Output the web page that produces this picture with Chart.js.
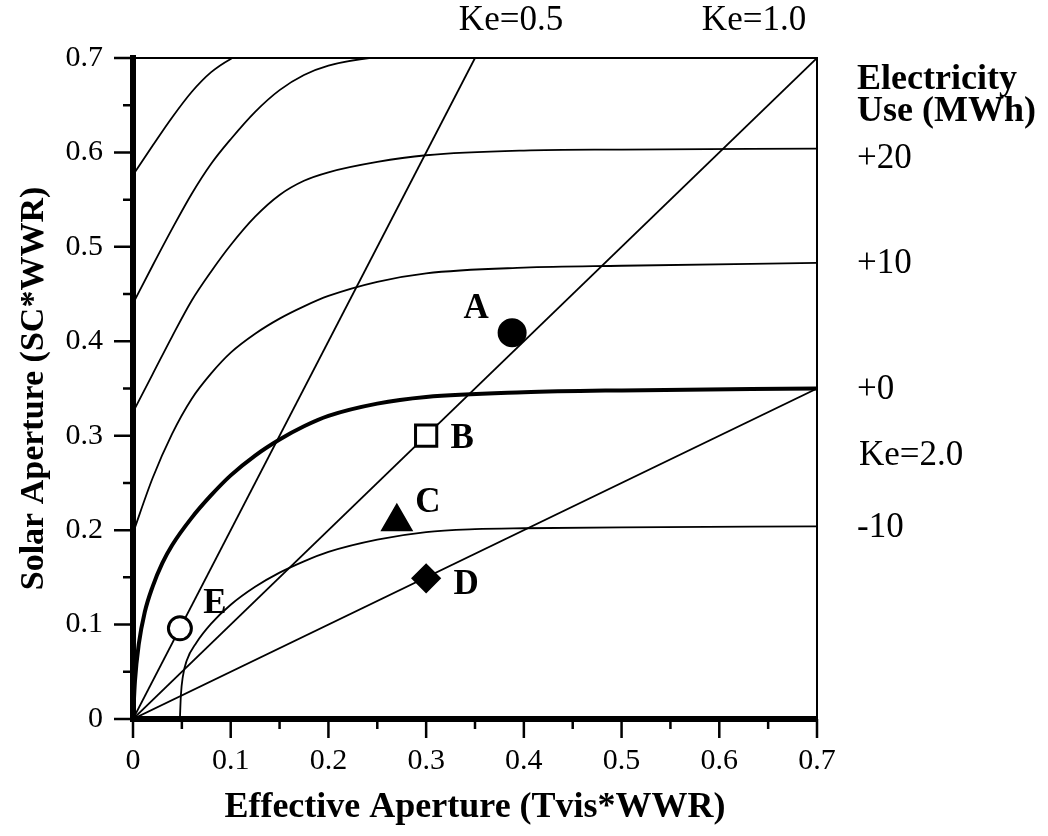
<!DOCTYPE html>
<html>
<head>
<meta charset="utf-8">
<script src="https://cdn.jsdelivr.net/npm/chart.js@4.4.0/dist/chart.umd.min.js"></script>
<style>
  html, body { margin: 0; padding: 0; background: #fff; }
  canvas { display: block; }
</style>
</head>
<body>
<canvas id="apertureChart" width="1048" height="836"></canvas>
<script>
// axis ticks
const tickValues = [0, 0.1, 0.2, 0.3, 0.4, 0.5, 0.6, 0.7];
const tickLabels = ['0', '0.1', '0.2', '0.3', '0.4', '0.5', '0.6', '0.7'];
const minorTicks = [0.05, 0.15, 0.25, 0.35, 0.45, 0.55, 0.65];

// electricity use contours [x, y]
const curvePlus40 = [[0, 0.576], [0.02, 0.607], [0.04, 0.637], [0.06, 0.664], [0.08, 0.685], [0.10, 0.699], [0.125, 0.711], [0.15, 0.719], [0.2, 0.726]];
const curvePlus30 = [[0, 0.440], [0.02, 0.480], [0.04, 0.519], [0.06, 0.556], [0.08, 0.588], [0.10, 0.614], [0.125, 0.643], [0.15, 0.666], [0.175, 0.682], [0.2, 0.692], [0.25, 0.701], [0.3, 0.705], [0.7, 0.707]];
const curvePlus20 = [[0, 0.325], [0.02, 0.365], [0.04, 0.405], [0.06, 0.443], [0.08, 0.474], [0.10, 0.502], [0.125, 0.532], [0.15, 0.555], [0.175, 0.570], [0.2, 0.579], [0.25, 0.590], [0.3, 0.597], [0.4, 0.602], [0.5, 0.603], [0.7, 0.604]];
const curvePlus10 = [[0, 0.197], [0.02, 0.255], [0.04, 0.302], [0.06, 0.339], [0.08, 0.366], [0.10, 0.388], [0.125, 0.408], [0.15, 0.424], [0.175, 0.437], [0.2, 0.448], [0.25, 0.463], [0.3, 0.472], [0.4, 0.478], [0.5, 0.480], [0.7, 0.483]];
const curveZero = [[0, 0], [0.002, 0.04], [0.006, 0.08], [0.012, 0.113], [0.02, 0.14], [0.03, 0.165], [0.04, 0.184], [0.06, 0.213], [0.08, 0.237], [0.10, 0.258], [0.125, 0.279], [0.15, 0.296], [0.175, 0.310], [0.2, 0.321], [0.25, 0.334], [0.3, 0.341], [0.4, 0.346], [0.5, 0.348], [0.7, 0.350]];
const curveMinus10 = [[0.048, 0], [0.049, 0.025], [0.051, 0.045], [0.055, 0.062], [0.065, 0.081], [0.08, 0.101], [0.10, 0.121], [0.125, 0.140], [0.15, 0.155], [0.175, 0.167], [0.2, 0.177], [0.25, 0.190], [0.3, 0.198], [0.35, 0.201], [0.4, 0.202], [0.5, 0.203], [0.7, 0.204]];

const curveNames = ['+40', '+30', '+20', '+10', '+0', '-10'];
const curves = [curvePlus40, curvePlus30, curvePlus20, curvePlus10, curveZero, curveMinus10];

// Ke lines (SC = Tvis / Ke)
const keNames = ['Ke=0.5', 'Ke=1.0', 'Ke=2.0'];
const keLineX = [[0, 0.35], [0, 0.7], [0, 0.7]];
const keLineY = [[0, 0.7], [0, 0.7], [0, 0.35]];

// case points
const pointNames = ['A', 'B', 'C', 'D', 'E'];
const pointX = [0.388, 0.30, 0.27, 0.30, 0.048];
const pointY = [0.409, 0.30, 0.209, 0.149, 0.096];

const serif = '"Liberation Serif", "Times New Roman", serif';

const datasets = [];

// markers first so they sit on top
datasets.push({
    label: 'cases',
    data: pointX.map((x, i) => ({ x: x, y: pointY[i] })),
    pointStyle: ['circle', 'rect', 'triangle', 'rectRot', 'circle'],
    pointRadius: [13, 15, 16, 13, 11.5],
    pointBackgroundColor: ['#000', '#fff', '#000', '#000', '#fff'],
    pointBorderColor: '#000',
    pointBorderWidth: 3,
    showLine: false,
    clip: false
});

curves.forEach((c, i) => {
    datasets.push({
        label: curveNames[i],
        data: c.map(p => ({ x: p[0], y: p[1] })),
        showLine: true,
        borderColor: '#000',
        borderWidth: curveNames[i] === '+0' ? 4 : 1.8,
        pointRadius: 0,
        cubicInterpolationMode: 'monotone',
        clip: 0
    });
});

keNames.forEach((k, i) => {
    datasets.push({
        label: k,
        data: keLineX[i].map((x, j) => ({ x: x, y: keLineY[i][j] })),
        showLine: true,
        borderColor: '#000',
        borderWidth: 1.8,
        pointRadius: 0,
        clip: 0
    });
});

// label offsets in px (style only)
const letterOffsets = { A: [-36, -15], B: [36, 12], C: [31, -10], D: [40, 16], E: [35, -15] };
const rightLabelDy = { '+20': 19, '+10': 10, '+0': 10, '-10': 11 };

const decor = {
    id: 'decor',
    afterDraw(chart) {
        const { ctx, chartArea: a, scales: { x, y } } = chart;
        ctx.save();
        ctx.strokeStyle = '#000';
        ctx.fillStyle = '#000';

        // thin top and right frame
        ctx.lineWidth = 2;
        ctx.beginPath();
        ctx.moveTo(a.left, a.top);
        ctx.lineTo(a.right, a.top);
        ctx.lineTo(a.right, a.bottom);
        ctx.stroke();

        // tick marks
        ctx.lineWidth = 2.5;
        const drawTicks = (vals, len) => {
            vals.forEach(v => {
                const px = x.getPixelForValue(v);
                const py = y.getPixelForValue(v);
                ctx.beginPath();
                ctx.moveTo(px, a.bottom);
                ctx.lineTo(px, a.bottom + len);
                ctx.moveTo(a.left - len, py);
                ctx.lineTo(a.left, py);
                ctx.stroke();
            });
        };
        drawTicks(tickValues, 19);
        drawTicks(minorTicks, 10);

        // letters next to the case points
        ctx.font = 'bold 35px ' + serif;
        ctx.textAlign = 'center';
        ctx.textBaseline = 'alphabetic';
        const meta = chart.getDatasetMeta(0);
        meta.data.forEach((pt, i) => {
            const off = letterOffsets[pointNames[i]];
            ctx.fillText(pointNames[i], pt.x + off[0], pt.y + off[1]);
        });

        // Ke labels above the plot
        ctx.font = '35px ' + serif;
        ctx.fillText(keNames[0], x.getPixelForValue(keLineX[0][1]) + 36, 30);
        ctx.fillText(keNames[1], x.getPixelForValue(keLineX[1][1]) - 63, 30);

        // right hand labels
        const rx = a.right + 40;
        ctx.textAlign = 'left';
        ctx.font = 'bold 36px ' + serif;
        ctx.fillText('Electricity', rx, a.top + 31);
        ctx.fillText('Use (MWh)', rx, a.top + 63);

        ctx.font = '35px ' + serif;
        curves.forEach((c, i) => {
            const name = curveNames[i];
            if (rightLabelDy[name] === undefined) return;
            const last = c[c.length - 1];
            ctx.fillText(name, rx, y.getPixelForValue(last[1]) + rightLabelDy[name]);
        });
        ctx.fillText(keNames[2], rx + 2, y.getPixelForValue(keLineY[2][1]) + 76);

        ctx.restore();
    }
};

const tickFont = { family: serif, size: 30 };
const labelFor = v => {
    const i = tickValues.findIndex(t => Math.abs(t - v) < 1e-6);
    return i >= 0 ? tickLabels[i] : '';
};

new Chart(document.getElementById('apertureChart').getContext('2d'), {
    type: 'scatter',
    data: { datasets: datasets },
    options: {
        responsive: false,
        animation: false,
        devicePixelRatio: 1,
        layout: { padding: { left: 0, top: 58, right: 231, bottom: 0 } },
        plugins: {
            legend: { display: false },
            tooltip: { enabled: false }
        },
        scales: {
            x: {
                type: 'linear',
                min: 0,
                max: 0.7,
                afterFit: s => { s.height = 117; },
                grid: { display: false, drawTicks: false },
                border: { display: true, width: 6, color: '#000' },
                ticks: { stepSize: 0.1, padding: 24, color: '#000', font: tickFont, maxRotation: 0, autoSkip: false, callback: labelFor },
                title: { display: true, text: 'Effective Aperture (Tvis*WWR)', color: '#000', font: { family: serif, size: 36, weight: 'bold' }, padding: { top: 0, bottom: 7 } }
            },
            y: {
                type: 'linear',
                min: 0,
                max: 0.7,
                afterFit: s => { s.width = 133; },
                grid: { display: false, drawTicks: false },
                border: { display: true, width: 6, color: '#000' },
                ticks: { stepSize: 0.1, padding: 30, color: '#000', font: tickFont, autoSkip: false, callback: labelFor },
                title: { display: true, text: 'Solar Aperture (SC*WWR)', color: '#000', font: { family: serif, size: 34, weight: 'bold' }, padding: { top: 14, bottom: 0 } }
            }
        }
    },
    plugins: [decor]
});
</script>
</body>
</html>
